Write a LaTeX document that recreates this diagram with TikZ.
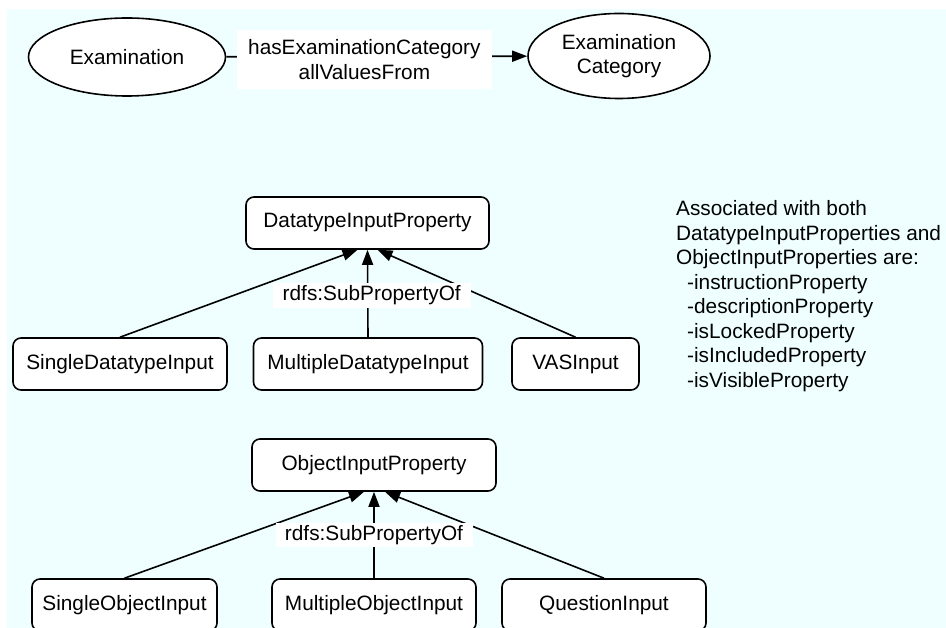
\documentclass[tikz,border=0pt]{standalone}
\usepackage{fontspec}
\setmainfont{Liberation Sans}
\usetikzlibrary{arrows.meta,shapes.geometric}
\definecolor{canvas}{RGB}{239,255,255}
\begin{document}
\begin{tikzpicture}[x=1pt,y=-1pt,
  every node/.append style={font=\fontsize{20.8}{24.5}\selectfont, text=black},
  cls/.style={ellipse,draw,line width=1.6pt,fill=white,inner sep=0pt},
  prop/.style={draw,rounded corners=8pt,line width=1.6pt,fill=white,inner sep=0pt,minimum height=52pt},
  tag/.style={fill=white,inner sep=0pt,align=center},
  link/.style={line width=1.6pt},
  isa/.style={link,-{Triangle[length=15pt,width=11pt]}}
]
\useasboundingbox (0,0) rectangle (946,628);
\clip (0,0) rectangle (946,628);
\fill[canvas] (7,9) rectangle (946,628);

% classes and their restriction
\node[cls,minimum width=197pt,minimum height=78pt] (exam) at (127,57) {Examination};
\node[cls,minimum width=182pt,minimum height=85pt,align=center] (cat) at (619,56) {Examination\\Category};
\draw[isa] (exam) -- node[tag,pos=0.459,yshift=-3pt,minimum width=255pt,minimum height=59pt,
  font=\fontsize{20.8}{25}\selectfont]
  {hasExaminationCategory\\allValuesFrom} (cat);

% datatype input properties
\node[prop,minimum width=243pt] (dip) at (367.5,223) {DatatypeInputProperty};
\node[prop,minimum width=214pt] (sdi) at (120,364) {SingleDatatypeInput};
\node[prop,minimum width=229pt] (mdi) at (368,364) {MultipleDatatypeInput};
\node[prop,minimum width=127pt] (vas) at (575.5,364) {VASInput};
\draw[isa] (sdi.north) -- ([xshift=-10pt]dip.south);
\draw[isa] (vas.north) -- ([xshift=10pt]dip.south);
\draw[isa] (mdi.north) -- node[tag,pos=0.48,xshift=4pt,minimum width=198pt,minimum height=25pt]
  {rdfs:SubPropertyOf} (dip.south);

% object input properties
\node[prop,minimum width=244pt] (oip) at (374,465) {ObjectInputProperty};
\node[prop,minimum width=185pt] (soi) at (124.5,605) {SingleObjectInput};
\node[prop,minimum width=204pt] (moi) at (374,605) {MultipleObjectInput};
\node[prop,minimum width=204pt] (qi) at (604,605) {QuestionInput};
\draw[isa] (soi.north) -- ([xshift=-10pt]oip.south);
\draw[isa] (qi.north) -- ([xshift=11pt]oip.south);
\draw[isa] (moi.north) -- node[tag,pos=0.5,minimum width=197pt,minimum height=24pt]
  {rdfs:SubPropertyOf} (oip.south);

% shared properties note
\node[anchor=north west,align=left,inner sep=0pt] (note) at (676,200.5)
  {Associated with both\\
   DatatypeInputProperties and\\
   ObjectInputProperties are:\\
   \hspace*{11pt}-instructionProperty\\
   \hspace*{11pt}-descriptionProperty\\
   \hspace*{11pt}-isLockedProperty\\
   \hspace*{11pt}-isIncludedProperty\\
   \hspace*{11pt}-isVisibleProperty};
\end{tikzpicture}
\end{document}
